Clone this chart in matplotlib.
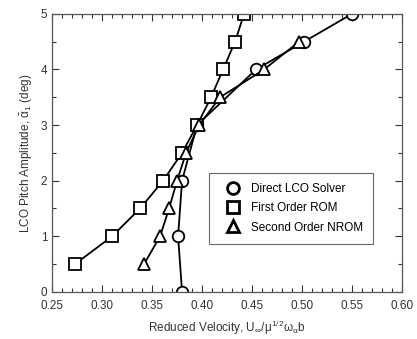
import matplotlib.pyplot as plt
from matplotlib.ticker import MultipleLocator

plt.rcParams['font.family'] = ['Liberation Sans', 'DejaVu Sans']
plt.rcParams['mathtext.fontset'] = 'custom'
plt.rcParams['mathtext.rm'] = 'Liberation Sans'
plt.rcParams['mathtext.it'] = 'Liberation Sans'

# direct LCO solver
direct_u = [0.380, 0.376, 0.380, 0.395, 0.454, 0.502, 0.550]
direct_a = [0.0, 1.0, 2.0, 3.0, 4.0, 4.5, 5.0]

# first order ROM
rom1_u = [0.273, 0.310, 0.338, 0.361, 0.380, 0.395, 0.409, 0.421, 0.433, 0.442]
rom1_a = [0.5, 1.0, 1.5, 2.0, 2.5, 3.0, 3.5, 4.0, 4.5, 5.0]

# second order NROM
rom2_u = [0.342, 0.358, 0.367, 0.375, 0.384, 0.397, 0.418, 0.462, 0.497]
rom2_a = [0.5, 1.0, 1.5, 2.0, 2.5, 3.0, 3.5, 4.0, 4.5]

fig = plt.figure(figsize=(4.17, 3.39), dpi=100)
ax = fig.add_axes([0.125, 0.139, 0.839, 0.82])

style = dict(color='black', lw=1.3, mfc='white', mec='black', mew=1.3, ms=8.3)
ax.plot(direct_u, direct_a, marker='o', label='Direct LCO Solver', **style)
ax.plot(rom1_u, rom1_a, marker='s', label='First Order ROM', **style)
ax.plot(rom2_u, rom2_a, marker='^', label='Second Order NROM', **style)

ax.set_xlim(0.25, 0.60)
ax.set_ylim(0, 5)
ax.xaxis.set_major_locator(MultipleLocator(0.05))
ax.xaxis.set_minor_locator(MultipleLocator(0.01))
ax.yaxis.set_major_locator(MultipleLocator(1))
ax.yaxis.set_minor_locator(MultipleLocator(0.5))
ax.xaxis.set_major_formatter(plt.FormatStrFormatter('%.2f'))
ax.tick_params(which='both', direction='in', top=True, right=True, labelsize=8.5, colors='#333333')
ax.tick_params(which='major', length=5, width=0.8)
ax.tick_params(which='minor', length=3, width=0.8)
ax.tick_params(axis='x', pad=6)
for s in ax.spines.values():
    s.set_color('#555555')
    s.set_linewidth(0.9)

ax.set_xlabel(r'Reduced Velocity, U$_\infty$/$\mu^{1/2}\omega_\alpha$b', fontsize=8.5, color='#333333', labelpad=5)
ax.set_ylabel(r'LCO Pitch Amplitude, $\bar{\alpha}_1$ (deg)', fontsize=8.5, color='#333333')

leg = ax.legend(loc='center left', bbox_to_anchor=(0.448, 0.30), fontsize=8.5,
                frameon=True, fancybox=False, edgecolor='#444444', handlelength=2.4,
                handletextpad=0.3, borderpad=0.85, labelspacing=0.6, borderaxespad=0)
leg.get_frame().set_linewidth(0.8)
for h in leg.legend_handles:
    h.set_linestyle('None')
    h.set_markeredgewidth(2)
    h.set_markersize(8.5)

fig.savefig('out.png', dpi=100)
